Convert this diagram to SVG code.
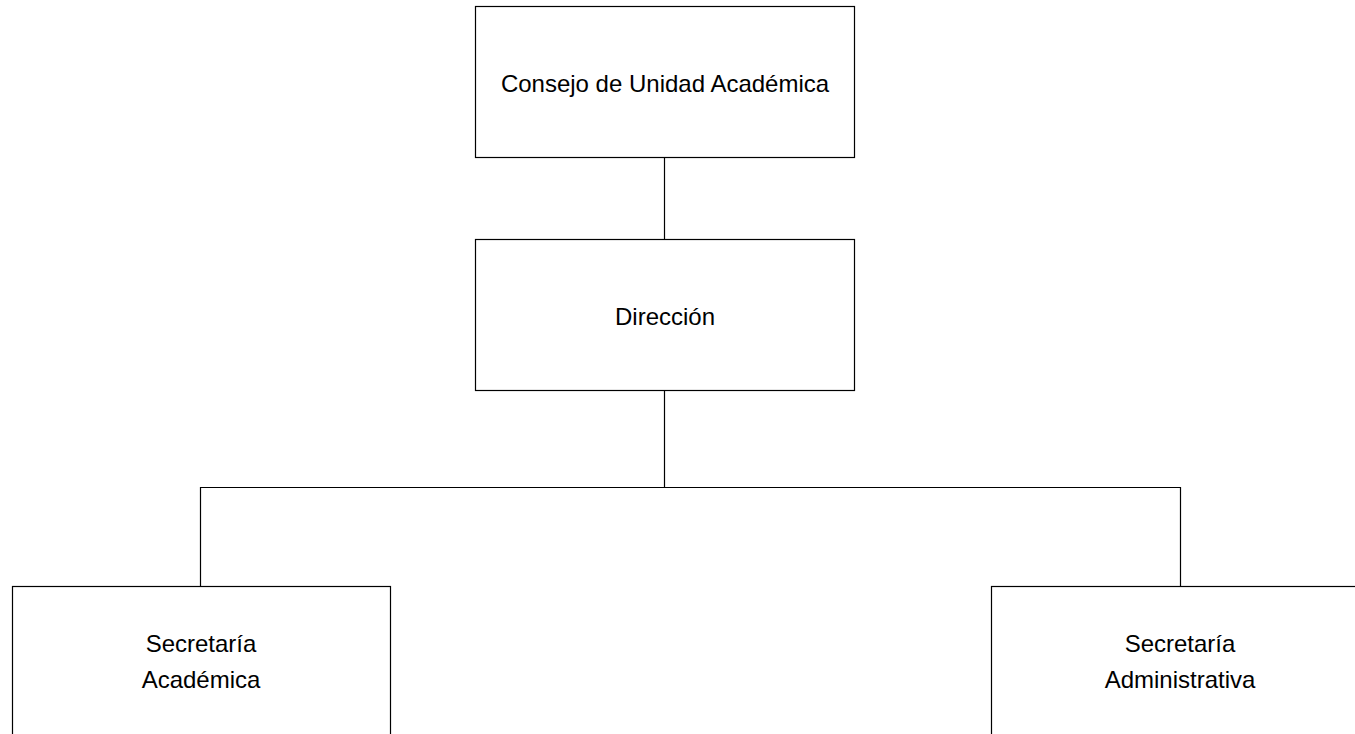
<svg xmlns="http://www.w3.org/2000/svg" width="1355" height="734" viewBox="0 0 1355 734">
  <style>
    .box { fill: #ffffff; stroke: #000000; stroke-width: 1.2; }
    .label { font-family: "Liberation Sans", Arial, Helvetica, sans-serif; font-size: 24px; fill: #000000; text-anchor: middle; }
    .link { fill: none; stroke: #000000; stroke-width: 1.2; }
  </style>
  <rect width="1355" height="734" fill="#ffffff"/>

  <!-- connectors of the org chart -->
  <g id="connectors">
    <line class="link" x1="664.5" y1="157.5" x2="664.5" y2="239.5"/>
    <path class="link" d="M664.5 390.5 V487.5 M200.5 586.5 V487.5 H1180.5 V586.5"/>
  </g>

  <g id="consejo">
    <rect class="box" x="475.5" y="6.5" width="379" height="151"/>
    <text class="label" x="665" y="91.5">Consejo de Unidad Académica</text>
  </g>

  <g id="direccion">
    <rect class="box" x="475.5" y="239.5" width="379" height="151"/>
    <text class="label" x="665" y="325">Dirección</text>
  </g>

  <g id="secretaria-academica">
    <rect class="box" x="12.5" y="586.5" width="378" height="151"/>
    <text class="label" x="201" y="651.5">Secretaría</text>
    <text class="label" x="201" y="688">Académica</text>
  </g>

  <g id="secretaria-administrativa">
    <rect class="box" x="991.5" y="586.5" width="378" height="151"/>
    <text class="label" x="1180" y="651.5">Secretaría</text>
    <text class="label" x="1180" y="688">Administrativa</text>
  </g>
</svg>
